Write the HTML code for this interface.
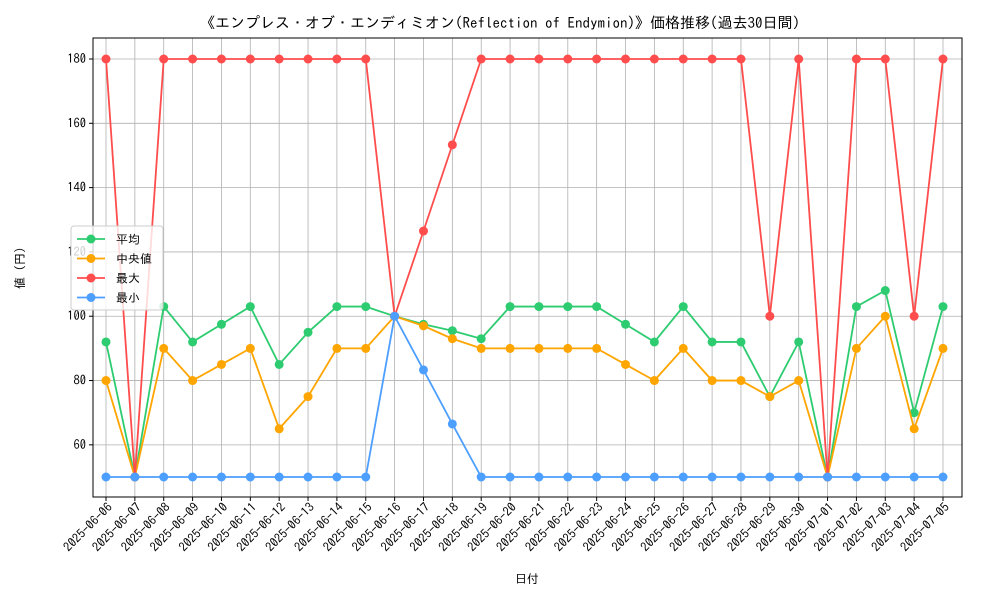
<!DOCTYPE html>
<html><head><meta charset="utf-8">
<style>
body{margin:0;background:#fff;font-family:"IPAGothic","Liberation Sans","Noto Sans CJK JP",sans-serif;}
svg text{font-family:"IPAGothic","Liberation Sans","Noto Sans CJK JP",sans-serif;}
</style></head>
<body>
<svg id="chart" width="1000" height="600" viewBox="0 0 1000 600" xmlns="http://www.w3.org/2000/svg">
<rect width="1000" height="600" fill="#fff"/>
<text x="500" y="28" text-anchor="middle" font-size="15">《エンプレス・オブ・エンディミオン(Reflection of Endymion)》価格推移(過去30日間)</text>
<g id="grid"></g>
<rect x="93" y="38" width="869" height="459" fill="none" stroke="#000" stroke-width="1"/>
<g id="axes"></g>
<g id="series"></g>
<text x="527" y="583" text-anchor="middle" font-size="12">日付</text>
<text x="0" y="0" transform="translate(24,268) rotate(-90)" text-anchor="middle" font-size="12">値 (円)</text>
<g id="legend"></g>
</svg>
<script>
const dates=["2025-06-06","2025-06-07","2025-06-08","2025-06-09","2025-06-10","2025-06-11","2025-06-12","2025-06-13","2025-06-14","2025-06-15","2025-06-16","2025-06-17","2025-06-18","2025-06-19","2025-06-20","2025-06-21","2025-06-22","2025-06-23","2025-06-24","2025-06-25","2025-06-26","2025-06-27","2025-06-28","2025-06-29","2025-06-30","2025-07-01","2025-07-02","2025-07-03","2025-07-04","2025-07-05"];
const avgValues=[92,50,103,92,97.5,103,85,95,103,103,100,97.5,95.5,93,103,103,103,103,97.5,92,103,92,92,75,92,50,103,108,70,103];
const medianValues=[80,50,90,80,85,90,65,75,90,90,100,97,93,90,90,90,90,90,85,80,90,80,80,75,80,50,90,100,65,90];
const maxValues=[180,50,180,180,180,180,180,180,180,180,100,126.5,153.3,180,180,180,180,180,180,180,180,180,180,100,180,50,180,180,100,180];
const minValues=[50,50,50,50,50,50,50,50,50,50,100,83.3,66.5,50,50,50,50,50,50,50,50,50,50,50,50,50,50,50,50,50];
const yTicks=[60,80,100,120,140,160,180];
const seriesNames=["平均","中央値","最大","最小"];
const seriesColors=["#2ecc71","#ffa500","#ff4d4d","#4d9fff"];
const NS="http://www.w3.org/2000/svg";
const X=i=>106+i*(943-106)/(dates.length-1);
const Y=v=>477-(v-50)*(477-59)/130;
function mk(tag,attrs,parent){const e=document.createElementNS(NS,tag);for(const k in attrs)e.setAttribute(k,attrs[k]);parent.appendChild(e);return e;}
const grid=document.getElementById('grid'),axes=document.getElementById('axes'),ser=document.getElementById('series'),leg=document.getElementById('legend');
dates.forEach((d,i)=>{
 const l=mk('line',{x1:X(i),x2:X(i),y1:38,y2:497,stroke:'#b0b0b0','stroke-width':0.8},grid);
 
 
 const t=mk('line',{x1:X(i),x2:X(i),y1:497,y2:501,stroke:'#000'},axes);
 
 
 const tx=mk('text',{x:X(i)+7,y:508,'font-size':12.5,'text-anchor':'end',transform:`rotate(-45 ${X(i)+7} 508)`},axes);
 tx.textContent=d;
 
 
});
yTicks.forEach(v=>{
 const l=mk('line',{x1:93,x2:962,y1:Y(v),y2:Y(v),stroke:'#b0b0b0','stroke-width':0.8},grid);
 
 
 const t=mk('line',{x1:89,x2:93,y1:Y(v),y2:Y(v),stroke:'#000'},axes);
 
 
 const tx=mk('text',{x:86,y:Y(v)+4,'font-size':12.5,'text-anchor':'end'},axes);
 tx.textContent=v;
 
 
});
const allSeries=[avgValues,medianValues,maxValues,minValues];
allSeries.forEach((vals,s)=>{
 const g=mk('g',{},ser);
 
 
 const p=mk('polyline',{points:vals.map((v,i)=>X(i)+','+Y(v)).join(' '),fill:'none',stroke:seriesColors[s],'stroke-width':1.8},g);
 
 
 vals.forEach((v,i)=>{
  const c=mk('circle',{cx:X(i),cy:Y(v),r:4.5,fill:seriesColors[s]},g);
  
  
 });
});
const lb=mk('rect',{x:71,y:226,width:92,height:84,fill:'#fff','fill-opacity':0.8,stroke:'#ccc',rx:3},leg);


seriesNames.forEach((n,s)=>{
 const y=239+s*19.5;
 const g=mk('g',{},leg);
 
 
 mk('line',{x1:77,x2:105,y1:y,y2:y,stroke:seriesColors[s],'stroke-width':1.8},g);
 mk('circle',{cx:91,cy:y,r:4.5,fill:seriesColors[s]},g);
 const t=mk('text',{x:116,y:y+4.5,'font-size':12},g);
 t.textContent=n;
});
</script>
</body></html>
